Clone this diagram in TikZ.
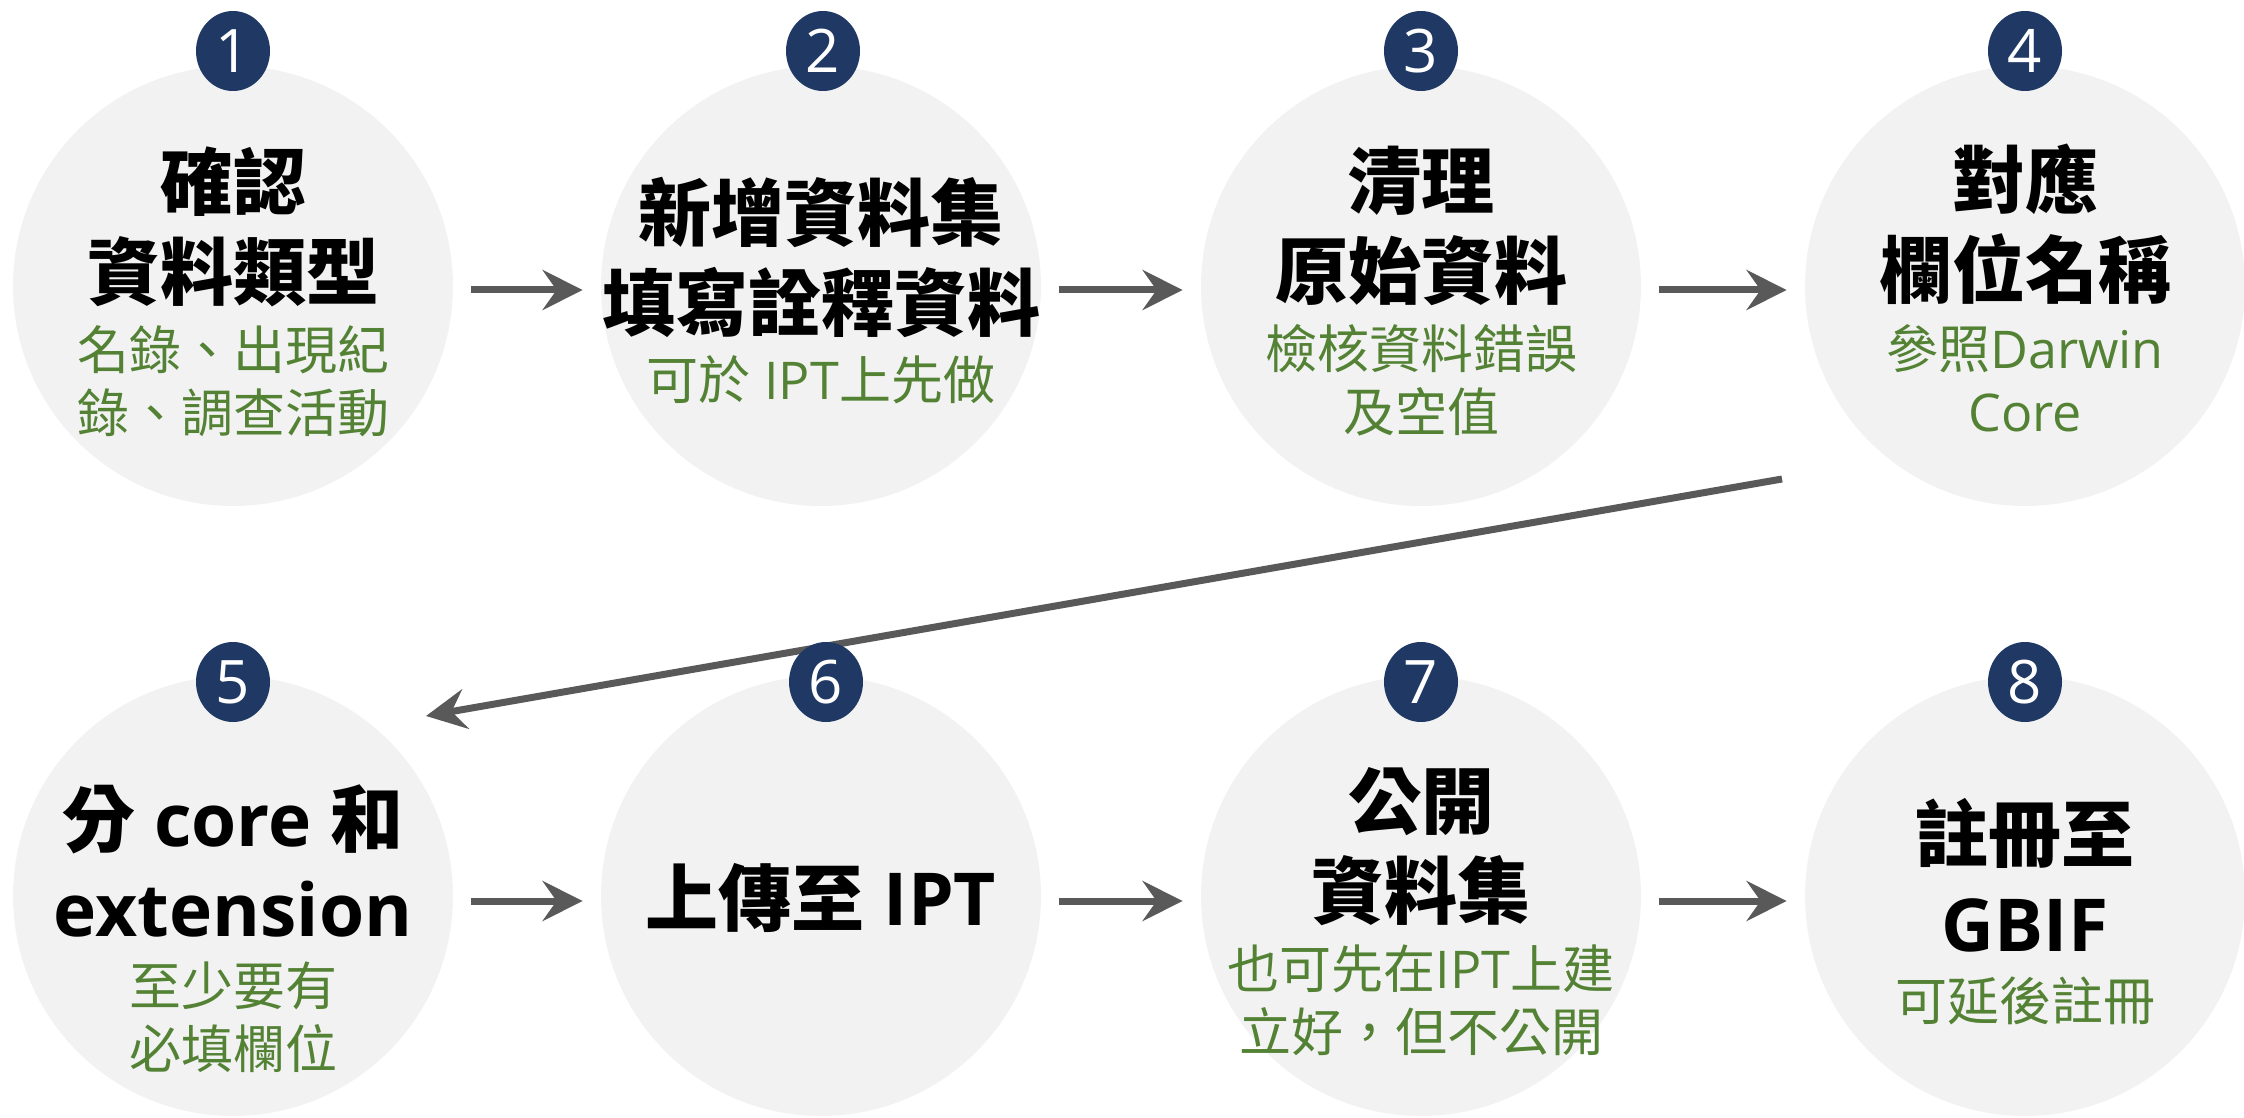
\documentclass[tikz,border=0pt]{standalone}
\usepackage{fontspec}
\setmainfont{Open Sans}
\newfontfamily\cjkfam{Noto Sans CJK TC}
\newcommand\zh[1]{{\cjkfam #1}}
\usetikzlibrary{arrows.meta,shapes.geometric,calc}
\definecolor{circfill}{HTML}{F2F2F2}
\definecolor{badgecol}{HTML}{1F3864}
\definecolor{notecol}{HTML}{548235}
\definecolor{arrcol}{HTML}{595959}
\tikzset{
  circ/.style={circle, fill=circfill, inner sep=0pt, minimum size=220pt},
  badge/.style={ellipse, fill=badgecol, inner sep=0pt, minimum width=37pt, minimum height=40pt,
    text=white, font=\fontsize{30}{30}\selectfont},
  ttl/.style={align=center, inner sep=0pt, text=black, font=\fontsize{36.5}{45}\selectfont\bfseries},
  note/.style={align=center, inner sep=0pt, text=notecol, font=\fontsize{26}{31.5}\selectfont},
  arr/.style={draw=arrcol, line width=3.5pt, -{Stealth[length=20pt, width=20pt, inset=7pt]}},
}
\begin{document}
\begin{tikzpicture}[x=0.5pt, y=-0.5pt]
\useasboundingbox (0,0) rectangle (2244,1118);
% circles
\node[circ] (c1) at (233,286) {};
\node[circ] (c2) at (821,286) {};
\node[circ] (c3) at (1421,286) {};
\node[circ] (c4) at (2025,286) {};
\node[circ] (c5) at (233,896) {};
\node[circ] (c6) at (821,896) {};
\node[circ] (c7) at (1421,896) {};
\node[circ] (c8) at (2025,896) {};
% connectors
\draw[arr, shorten <=9pt, shorten >=9pt] ([yshift=-2pt]c1.east) -- ([yshift=-2pt]c2.west);
\draw[arr, shorten <=9pt, shorten >=9pt] ([yshift=-2pt]c2.east) -- ([yshift=-2pt]c3.west);
\draw[arr, shorten <=9pt, shorten >=9pt] ([yshift=-2pt]c3.east) -- ([yshift=-2pt]c4.west);
\draw[arr, shorten <=9pt, shorten >=9pt] ([yshift=-2.5pt]c5.east) -- ([yshift=-2.5pt]c6.west);
\draw[arr, shorten <=9pt, shorten >=9pt] ([yshift=-2.5pt]c6.east) -- ([yshift=-2.5pt]c7.west);
\draw[arr, shorten <=9pt, shorten >=9pt] ([yshift=-2.5pt]c7.east) -- ([yshift=-2.5pt]c8.west);
\coordinate (ds) at ($(c4)+(-243,193)$);
\coordinate (de) at ($(c5)+(193,-180)$);
\draw[arr] (ds) -- (de);
% badges
\node[badge] (b1) at (233,51) {1};
\node[badge] (b2) at (823,51) {2};
\node[badge] (b3) at (1421,51) {3};
\node[badge] (b4) at (2025,51) {4};
\node[badge] (b5) at (233,682) {5};
\node[badge] (b6) at (826,682) {6};
\node[badge] (b7) at (1421,682) {7};
\node[badge] (b8) at (2025,682) {8};
% titles
\node[ttl] (t1) at (233,226.5) {\zh{確認}\\\zh{資料類型}};
\node[ttl] (t2) at (821,257.5) {\zh{新增資料集}\\\zh{填寫詮釋資料}};
\node[ttl] (t3) at (1421,225.5) {\zh{清理}\\\zh{原始資料}};
\node[ttl] (t4) at (2025,224.5) {\zh{對應}\\\zh{欄位名稱}};
\node[ttl] (t5) at (233,860.5) {\zh{分} core \zh{和}\\extension};
\node[ttl] (t6) at (821,898) {\zh{上傳至} IPT};
\node[ttl] (t7) at (1421,846.5) {\zh{公開}\\\zh{資料集}};
\node[ttl] (t8) at (2025,875.5) {\zh{註冊至}\\GBIF};
% notes
\node[note] (n1) at (233,381.5) {\zh{名錄、出現紀}\\\zh{錄、調查活動}};
\node[note] (n2) at (821,380) {\zh{可於} IPT\zh{上先做}};
\node[note] (n3) at (1421,380) {\zh{檢核資料錯誤}\\\zh{及空值}};
\node[note] (n4) at (2025,378.5) {\zh{參照}Darwin\\Core};
\node[note] (n5) at (233,1017) {\zh{至少要有}\\\zh{必填欄位}};
\node[note] (n7) at (1421,1000) {\zh{也可先在}IPT\zh{上建}\\\zh{立好，但不公開}};
\node[note] (n8) at (2025,1000.5) {\zh{可延後註冊}};
\end{tikzpicture}
\end{document}
